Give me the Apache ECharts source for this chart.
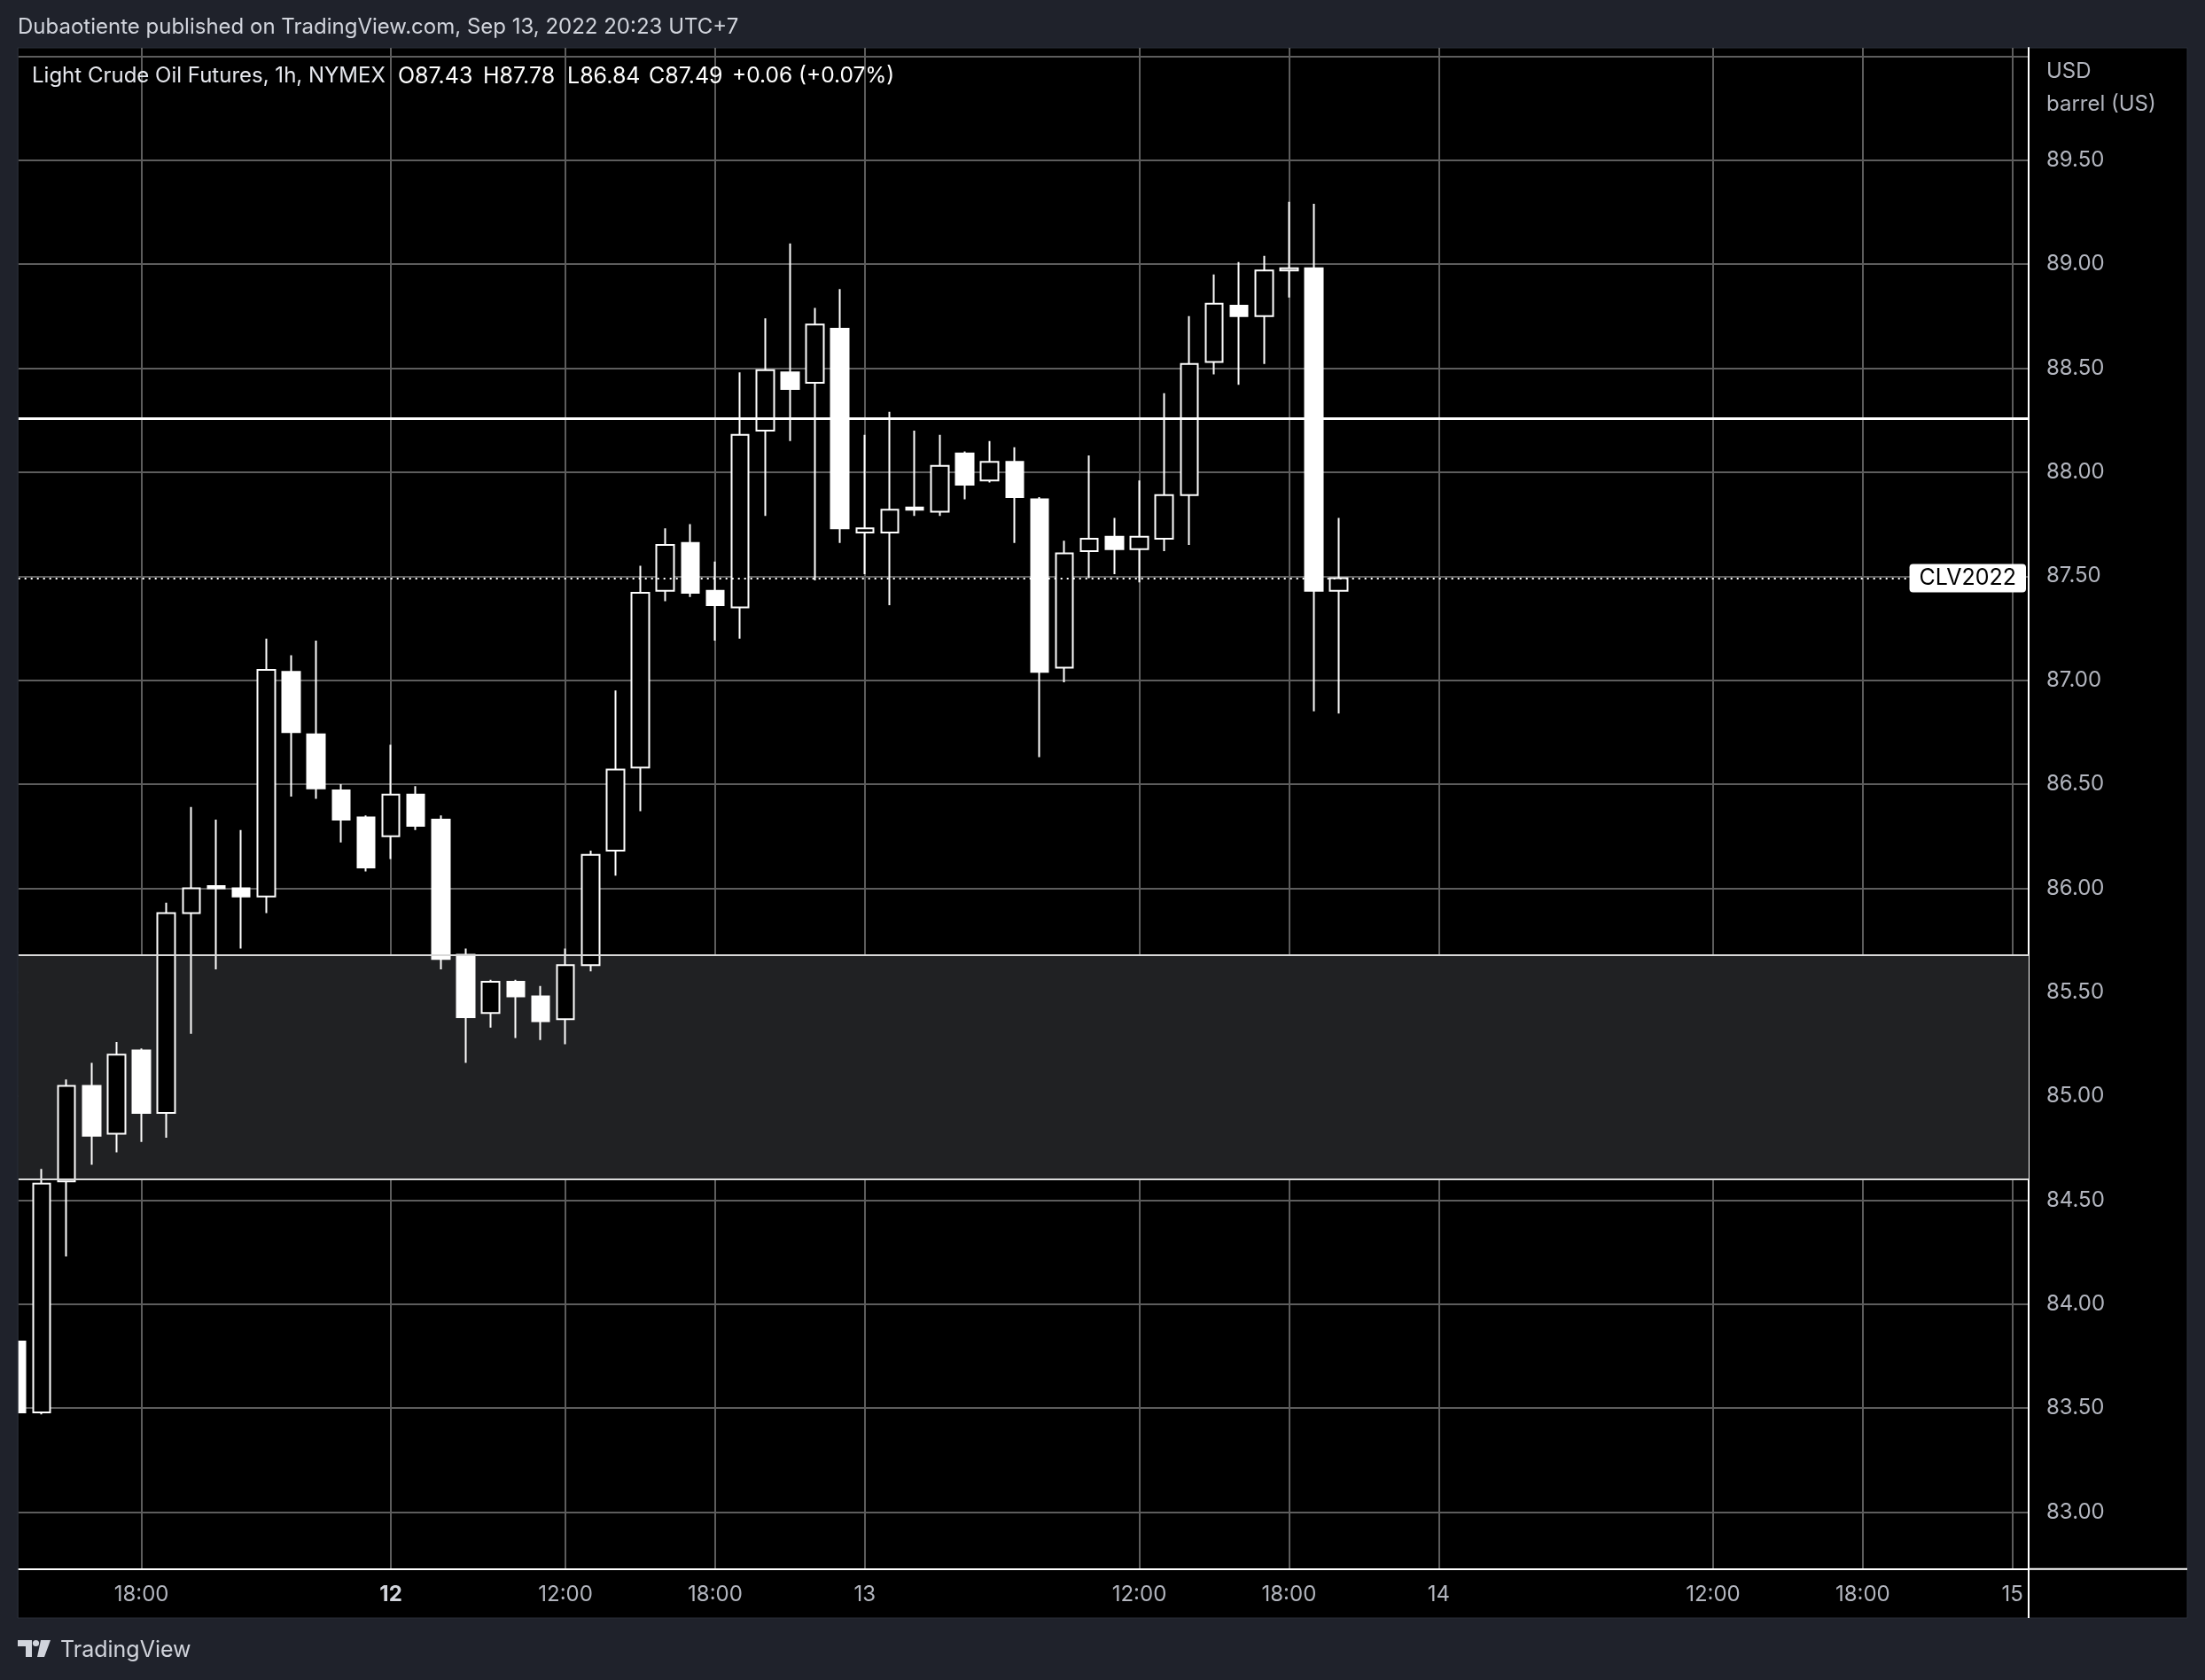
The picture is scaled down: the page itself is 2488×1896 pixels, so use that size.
<!DOCTYPE html>
<html><head><meta charset="utf-8">
<script src="https://cdn.jsdelivr.net/npm/echarts@6/dist/echarts.min.js"></script>
<style>html,body{margin:0;padding:0;background:#1f222b;}#c{width:2488px;height:1896px;}</style>
</head><body><div id="c"></div>
<script>
// ---- data (hourly bars, UTC+7) ----
const times = [
 '09-09 13:00','09-09 14:00','09-09 15:00','09-09 16:00','09-09 17:00','09-09 18:00','09-09 19:00','09-09 20:00','09-09 21:00','09-09 22:00','09-09 23:00',
 '09-10 00:00','09-10 01:00','09-10 02:00','09-10 03:00',
 '09-12 05:00','09-12 06:00','09-12 07:00','09-12 08:00','09-12 09:00','09-12 10:00','09-12 11:00','09-12 12:00','09-12 13:00','09-12 14:00','09-12 15:00','09-12 16:00','09-12 17:00','09-12 18:00','09-12 19:00','09-12 20:00','09-12 21:00','09-12 22:00','09-12 23:00',
 '09-13 00:00','09-13 01:00','09-13 02:00','09-13 03:00',
 '09-13 05:00','09-13 06:00','09-13 07:00','09-13 08:00','09-13 09:00','09-13 10:00','09-13 11:00','09-13 12:00','09-13 13:00','09-13 14:00','09-13 15:00','09-13 16:00','09-13 17:00','09-13 18:00','09-13 19:00','09-13 20:00'
];
const opens  = [83.82,83.48,84.59,85.05,84.82,85.22,84.92,85.88,86.01,86.00,85.96,87.04,86.74,86.47,86.34,86.25,86.45,86.33,85.68,85.40,85.55,85.48,85.37,85.63,86.18,86.58,87.43,87.66,87.43,87.35,88.20,88.48,88.43,88.69,87.71,87.71,87.83,87.81,88.09,87.96,88.05,87.87,87.06,87.62,87.69,87.63,87.68,87.89,88.53,88.80,88.75,88.97,88.98,87.43];
const closes = [83.48,84.58,85.05,84.81,85.20,84.92,85.88,86.00,86.00,85.96,87.05,86.75,86.48,86.33,86.10,86.45,86.30,85.66,85.38,85.55,85.48,85.36,85.63,86.16,86.57,87.42,87.65,87.42,87.36,88.18,88.49,88.40,88.71,87.73,87.73,87.82,87.82,88.03,87.94,88.05,87.88,87.04,87.61,87.68,87.63,87.69,87.89,88.52,88.81,88.75,88.97,88.98,87.43,87.49];
const lows   = [83.47,83.47,84.23,84.67,84.73,84.78,84.80,85.30,85.61,85.71,85.88,86.44,86.43,86.22,86.08,86.14,86.28,85.61,85.16,85.33,85.28,85.27,85.25,85.60,86.06,86.37,87.38,87.40,87.19,87.20,87.79,88.15,87.48,87.66,87.51,87.36,87.79,87.79,87.87,87.95,87.66,86.63,86.99,87.49,87.51,87.47,87.62,87.65,88.47,88.42,88.52,88.84,86.85,86.84];
const highs  = [83.84,84.65,85.08,85.16,85.26,85.23,85.93,86.39,86.33,86.28,87.20,87.12,87.19,86.50,86.35,86.69,86.49,86.35,85.71,85.56,85.56,85.53,85.71,86.18,86.95,87.55,87.73,87.75,87.57,88.48,88.74,89.10,88.79,88.88,88.18,88.29,88.20,88.18,88.10,88.15,88.12,87.88,87.67,88.08,87.78,87.96,88.38,88.75,88.95,89.01,89.04,89.30,89.29,87.78];
// time-axis ticks (bar index on the session-compressed axis) and their labels
const tickIndex  = [5,15,22,28,34,45,51,57,68,74,80];
const tickLabels = ['18:00','12','12:00','18:00','13','12:00','18:00','14','12:00','18:00','15'];
const boldLabels = ['12'];
// price ticks
const priceGrid   = [83.0,83.5,84.0,84.5,85.0,85.5,86.0,86.5,87.0,87.5,88.0,88.5,89.0,89.5,90.0];
const priceLabels = [83.0,83.5,84.0,84.5,85.0,85.5,86.0,86.5,87.0,87.5,88.0,88.5,89.0,89.5];
// drawn levels
const resistanceLevel = 88.26;
const zoneLow = 84.60, zoneHigh = 85.68;
const symbolName = 'CLV2022';

const FONT = 'Inter, "Noto Sans", sans-serif';
const BG = '#1f222b';
const last = closes.length - 1;
const chg = closes[last] - closes[last - 1];
const chgPct = chg / closes[last - 1] * 100;
const sgn = v => (v >= 0 ? '+' : '') + v.toFixed(2);

const candleData = times.map((t, i) => [i, opens[i], closes[i], lows[i], highs[i]]);

const chart = echarts.init(document.getElementById('c'), null, {renderer: 'canvas'});
const txt = (x, y, text, size, fill, extra) => Object.assign({
  type: 'text', x, y, z: 50,
  style: {text, fill, font: size + 'px ' + FONT, verticalAlign: 'middle', align: 'left'}
}, extra || {});

chart.setOption({
  animation: false,
  backgroundColor: BG,
  grid: {left: 20.7, right: 199, top: 54, bottom: 125.3, containLabel: false, outerBoundsMode: 'none'},
  xAxis: {
    type: 'value', min: 0.066, max: 80.65,
    axisLine: {show: true, lineStyle: {color: '#ffffff', width: 2}},
    axisTick: {show: false, customValues: tickIndex},
    axisLabel: {
      customValues: tickIndex, color: '#b2b5be', fontSize: 24, fontFamily: FONT, margin: 17,
      formatter: v => { const s = tickLabels[tickIndex.indexOf(Math.round(v))] || ''; return boldLabels.includes(s) ? '{b|' + s + '}' : s; },
      rich: {b: {fontWeight: 'bold', fontSize: 24, fontFamily: FONT, color: '#d1d4dc'}}
    },
    splitLine: {show: true, lineStyle: {color: '#5d5d5d', width: 2}}
  },
  yAxis: {
    type: 'value', position: 'right', min: 82.727, max: 90.04,
    axisLine: {show: true, lineStyle: {color: '#ffffff', width: 2}},
    axisTick: {show: false, customValues: priceGrid},
    axisLabel: {customValues: priceLabels, color: '#b2b5be', fontSize: 24, fontFamily: FONT, margin: 20, align: 'left',
      formatter: v => v.toFixed(2)},
    splitLine: {show: true, lineStyle: {color: '#5d5d5d', width: 2}}
  },
  series: [
    {
      type: 'line', data: [], z: -1, silent: true,
      markArea: {silent: true, itemStyle: {color: '#202123'}, data: [[{yAxis: zoneLow}, {yAxis: zoneHigh}]]}
    },
    {
      type: 'candlestick', data: candleData, encode: {x: 0, y: [1, 2, 3, 4]},
      barWidth: 20, z: 3, clip: true,
      itemStyle: {color: '#000000', color0: '#ffffff', borderColor: '#ffffff', borderColor0: '#ffffff', borderWidth: 2},
      markLine: {
        silent: true, symbol: ['none', 'none'], animation: false,
        label: {show: false},
        data: [
          {yAxis: resistanceLevel, lineStyle: {color: '#ffffff', width: 3, type: 'solid'}},
          {yAxis: zoneHigh, lineStyle: {color: '#d9d9d9', width: 2, type: 'solid'}},
          {yAxis: zoneLow, lineStyle: {color: '#d9d9d9', width: 2, type: 'solid'}},
          {yAxis: closes[last], lineStyle: {color: '#ffffff', width: 2, type: [2, 5]},
           label: {show: true, position: 'end', formatter: symbolName, align: 'right', distance: -3,
             backgroundColor: '#ffffff', color: '#000000', fontSize: 25, fontFamily: FONT,
             padding: [4, 11, 3, 11], borderRadius: 4}}
        ]
      }
    }
  ],
  graphic: [
    {type: 'rect', z: -100, shape: {x: 20, y: 54, width: 2448, height: 1772}, style: {fill: '#000000', stroke: '#2a2e39', lineWidth: 1}},
    {type: 'rect', z: 45, shape: {x: 0, y: 54, width: 20.4, height: 1772}, style: {fill: BG}},
    {type: 'line', z: 46, shape: {x1: 20, y1: 54, x2: 20, y2: 1826}, style: {stroke: '#2a2e39', lineWidth: 1}},
    {type: 'line', z: 40, shape: {x1: 2289, y1: 1770.7, x2: 2468, y2: 1770.7}, style: {stroke: '#ffffff', lineWidth: 2}},
    {type: 'line', z: 40, shape: {x1: 2289, y1: 1770, x2: 2289, y2: 1826}, style: {stroke: '#ffffff', lineWidth: 2}},
    txt(20, 31, 'Dubaotiente published on TradingView.com, Sep 13, 2022 20:23 UTC+7', 24, '#d1d4dc'),
    txt(36, 86, 'Light Crude Oil Futures, 1h, NYMEX', 24, '#e6e8ee'),
    txt(449, 86, 'O' + opens[last].toFixed(2), 25, '#ffffff'),
    txt(545, 86, 'H' + highs[last].toFixed(2), 25, '#ffffff'),
    txt(640, 86, 'L' + lows[last].toFixed(2), 25, '#ffffff'),
    txt(732, 86, 'C' + closes[last].toFixed(2), 25, '#ffffff'),
    txt(826, 86, sgn(chg) + ' (' + sgn(chgPct) + '%)', 24.5, '#ffffff'),
    txt(2309, 81, 'USD', 24, '#b2b5be'),
    txt(2309, 118, 'barrel (US)', 24, '#b2b5be'),
    txt(68, 1862, 'TradingView', 25, '#d1d4dc'),
    {type: 'polygon', z: 50, shape: {points: [[20,1851],[36,1851],[36,1870],[29,1870],[29,1858],[20,1858]]}, style: {fill: '#d1d4dc'}},
    {type: 'circle', z: 50, shape: {cx: 40.5, cy: 1854.5, r: 3.6}, style: {fill: '#d1d4dc'}},
    {type: 'polygon', z: 50, shape: {points: [[46,1851],[57,1851],[50,1870],[42,1870]]}, style: {fill: '#d1d4dc'}}
  ]
});
</script>
</body></html>
